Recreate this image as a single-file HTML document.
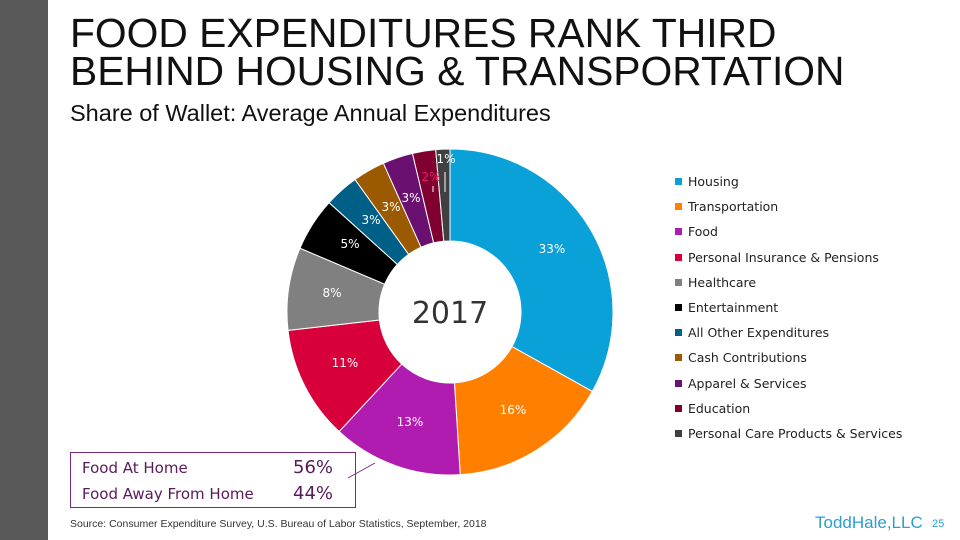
<!DOCTYPE html>
<html><head><meta charset="utf-8"><style>
body{margin:0;width:960px;height:540px;background:#fff;position:relative;overflow:hidden;font-family:"Liberation Sans",sans-serif}
.abs{position:absolute}
.leg{position:absolute;left:675px;color:#222;white-space:nowrap;font-family:"DejaVu Sans","Liberation Sans",sans-serif;font-size:12.5px}
.leg i{display:inline-block;width:7px;height:7px;margin-right:2px;vertical-align:1px}
</style></head><body>
<div class="abs" style="left:0;top:0;width:48px;height:540px;background:#595959"></div>
<div class="abs" style="left:70px;top:14px;font-size:40.8px;line-height:38px;color:#111">FOOD EXPENDITURES RANK THIRD<br>BEHIND HOUSING &amp; TRANSPORTATION</div>
<div class="abs" style="left:70px;top:100px;font-size:23.5px;color:#111">Share of Wallet: Average Annual Expenditures</div>
<svg class="abs" style="left:0;top:0" width="960" height="540">
<g id="slices"></g><g id="labels"></g>
<text x="450" y="323" text-anchor="middle" font-size="30" font-family="DejaVu Sans, sans-serif" fill="#333">2017</text>
<line x1="348" y1="478" x2="375" y2="463" stroke="#7a2a7a" stroke-width="1"/>
<line x1="433" y1="186" x2="433" y2="192" stroke="#fff" stroke-width="1"/>
<line x1="445" y1="172" x2="445" y2="192" stroke="#fff" stroke-width="1"/>
</svg>
<div id="legend"></div>
<div class="abs" style="left:70px;top:452px;width:284px;height:54px;border:1px solid #7a2a7a;font-family:'DejaVu Sans',sans-serif;font-size:15px;color:#5a1a5a">
<div class="abs" style="left:11px;top:6px">Food At Home</div><div class="abs" style="left:222px;top:4px;font-size:18px">56%</div>
<div class="abs" style="left:11px;top:32px">Food Away From Home</div><div class="abs" style="left:222px;top:30px;font-size:18px">44%</div>
</div>
<div class="abs" style="left:70px;top:518px;font-size:10.5px;color:#333">Source: Consumer Expenditure Survey, U.S. Bureau of Labor Statistics, September, 2018</div>
<div class="abs" style="left:815px;top:513px;font-size:17px;color:#2a9fd0">ToddHale,LLC</div>
<div class="abs" style="left:932px;top:518px;font-size:11px;color:#2a9fd0">25</div>
<script>
const categories=["Housing","Transportation","Food","Personal Insurance & Pensions","Healthcare","Entertainment","All Other Expenditures","Cash Contributions","Apparel & Services","Education","Personal Care Products & Services"];
const values=[33.1,15.9,12.9,11.3,8.2,5.3,3.4,3.2,3.0,2.3,1.4];
const valueLabels=["33%","16%","13%","11%","8%","5%","3%","3%","3%","2%","1%"];
const colors=["#0aa0d8","#ff8000","#b01cb0","#d7003a","#808080","#000000","#005f87","#9b5a00","#6a1070","#800030","#404040"];
const labelColors=["#fff","#fff","#fff","#fff","#fff","#fff","#fff","#fff","#fff","#e0206a","#fff"];
const labelPos=[[552,253],[513,414],[410,426],[345,367],[332,297],[350,248],[371,224],[391,211],[411,202],[431,181],[446,163]];
const NS="http://www.w3.org/2000/svg",cx=450,cy=312,R=163,r=71;
const tot=values.reduce((a,b)=>a+b,0);
const pt=(a,rad)=>[cx+rad*Math.sin(a),cy-rad*Math.cos(a)];
let acc=0;const gs=document.getElementById('slices'),gl=document.getElementById('labels');
values.forEach((v,i)=>{const a0=acc/tot*2*Math.PI;acc+=v;const a1=acc/tot*2*Math.PI;const lg=a1-a0>Math.PI?1:0;
const p0=pt(a0,R),p1=pt(a1,R),q1=pt(a1,r),q0=pt(a0,r);
const p=document.createElementNS(NS,'path');
p.setAttribute('d',`M${p0}A${R},${R} 0 ${lg} 1 ${p1}L${q1}A${r},${r} 0 ${lg} 0 ${q0}Z`);
p.setAttribute('fill',colors[i]);p.setAttribute('stroke','#fff');p.setAttribute('stroke-width','1');


gs.appendChild(p);
const t=document.createElementNS(NS,'text');t.setAttribute('x',labelPos[i][0]);t.setAttribute('y',labelPos[i][1]);
t.setAttribute('text-anchor','middle');t.setAttribute('font-size','12');t.setAttribute('font-family','DejaVu Sans, sans-serif');
t.setAttribute('fill',labelColors[i]);
t.textContent=valueLabels[i];


gl.appendChild(t);});
const lg=document.getElementById('legend');
categories.forEach((c,i)=>{const d=document.createElement('div');d.className='leg';d.style.top=(174+i*25.2)+'px';
d.innerHTML=`<i style="background:${colors[i]}"></i> `+c.replace('&','&amp;');


lg.appendChild(d);});
</script>
</body></html>
